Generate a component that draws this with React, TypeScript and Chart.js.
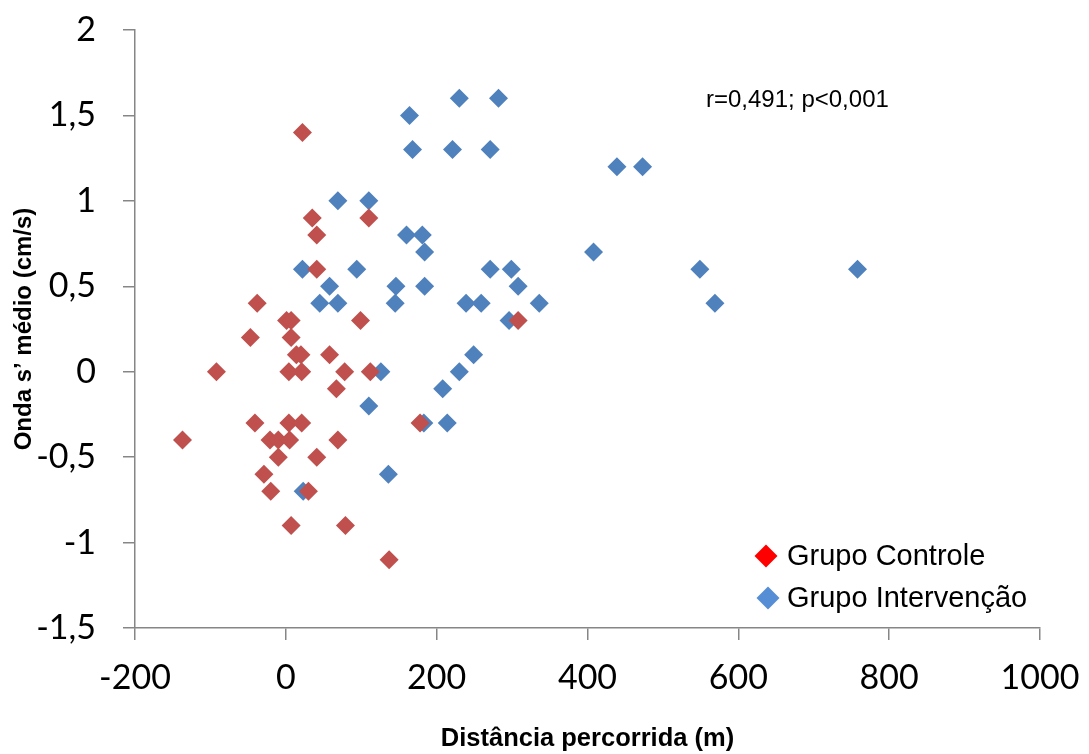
import React, { useEffect, useRef } from "react";
import { Chart, registerables } from "chart.js";

Chart.register(...registerables);

// ---- Data ----
const seriesNames = ["Grupo Controle", "Grupo Intervenção"];

const controleX = [22, 110, 35, 41, 41, -38, 1, 7, 99, -47, 7, 14, 20, 58, -92, 4, 21, 78, 112, 67, 178, -41, 4, 21, -137, -21, -10, 5, 69, -10, 41, -29, -20, 30, 7, 79, 137, 308];
const controleY = [1.4, 0.9, 0.9, 0.8, 0.6, 0.4, 0.3, 0.3, 0.3, 0.2, 0.2, 0.1, 0.1, 0.1, 0, 0, 0, 0, 0, -0.1, -0.3, -0.3, -0.3, -0.3, -0.4, -0.4, -0.4, -0.4, -0.4, -0.5, -0.5, -0.6, -0.7, -0.7, -0.9, -0.9, -1.1, 0.3];

const intervencaoX = [230, 282, 164, 168, 221, 271, 439, 473, 69, 110, 160, 181, 184, 408, 22, 94, 271, 299, 549, 758, 58, 146, 184, 308, 45, 69, 145, 239, 259, 336, 569, 296, 249, 126, 230, 110, 208, 183, 214, 136, 23];
const intervencaoY = [1.6, 1.6, 1.5, 1.3, 1.3, 1.3, 1.2, 1.2, 1.0, 1.0, 0.8, 0.8, 0.7, 0.7, 0.6, 0.6, 0.6, 0.6, 0.6, 0.6, 0.5, 0.5, 0.5, 0.5, 0.4, 0.4, 0.4, 0.4, 0.4, 0.4, 0.4, 0.3, 0.1, 0, 0, -0.2, -0.1, -0.3, -0.3, -0.6, -0.7];

const xTickValues = [-200, 0, 200, 400, 600, 800, 1000];
const yTickValues = [-1.5, -1, -0.5, 0, 0.5, 1, 1.5, 2];

const annotationText = "r=0,491; p<0,001";
const xAxisTitle = "Distância percorrida (m)";
const yAxisTitle = "Onda s’ médio (cm/s)";

const markerColors = ["#C0504D", "#4F81BD"];
const legendColors = ["#FF0000", "#558ED5"];

const toPoints = (xs: number[], ys: number[]) => xs.map((x, i) => ({ x, y: ys[i] }));

const overlayPlugin = {
  id: "overlay",
  afterDraw(chart: any) {
    const ctx = chart.ctx as CanvasRenderingContext2D;
    const area = chart.chartArea;
    ctx.save();
    // correlation annotation
    ctx.font = '24px "Liberation Sans", Arial, sans-serif';
    ctx.fillStyle = "#000000";
    ctx.textAlign = "left";
    ctx.textBaseline = "alphabetic";
    ctx.fillText(annotationText, area.left + 571, area.top + 77);

    // legend (inside plot, bottom right)
    const names = chart.data.datasets.map((d: any) => d.label);
    const baseX = area.left + 652;
    const rows = [area.top + 526, area.top + 568];
    ctx.font = '29px "Liberation Sans", Arial, sans-serif';
    ctx.textBaseline = "middle";
    names.forEach((name: string, i: number) => {
      const cy = rows[i];
      const cx = baseX - 21 + i * 2;
      const r = 11.5;
      ctx.beginPath();
      ctx.moveTo(cx, cy - r);
      ctx.lineTo(cx + r, cy);
      ctx.lineTo(cx, cy + r);
      ctx.lineTo(cx - r, cy);
      ctx.closePath();
      ctx.fillStyle = legendColors[i];
      ctx.fill();
      ctx.fillStyle = "#000000";
      ctx.fillText(name, baseX, cy + 1);
    });
    ctx.restore();
  },
};

export default function App() {
  const canvasRef = useRef<HTMLCanvasElement | null>(null);

  useEffect(() => {
    if (!canvasRef.current) return;
    const chart = new Chart(canvasRef.current, {
      type: "scatter",
      data: {
        datasets: [
          {
            label: seriesNames[0],
            data: toPoints(controleX, controleY),
            backgroundColor: markerColors[0],
            borderColor: markerColors[0],
            borderWidth: 0,
            pointStyle: "rectRot",
            pointRadius: 9.5,
            pointHoverRadius: 9.5,
          },
          {
            label: seriesNames[1],
            data: toPoints(intervencaoX, intervencaoY),
            backgroundColor: markerColors[1],
            borderColor: markerColors[1],
            borderWidth: 0,
            pointStyle: "rectRot",
            pointRadius: 9.5,
            pointHoverRadius: 9.5,
          },
        ],
      },
      options: {
        animation: false,
        responsive: true,
        maintainAspectRatio: false,
        layout: { padding: { top: 30, right: 49, left: 0, bottom: 0 } },
        plugins: {
          legend: { display: false },
          tooltip: { enabled: false },
        },
        scales: {
          x: {
            type: "linear",
            min: -200,
            max: 1000,
            afterBuildTicks: (scale: any) => {
              scale.ticks = xTickValues.map((v) => ({ value: v }));
            },
            afterFit: (scale: any) => {
              scale.height = 126;
              scale.paddingLeft = 0;
              scale.paddingRight = 0;
            },
            grid: {
              drawOnChartArea: false,
              drawTicks: true,
              tickLength: 12,
              color: "#868686",
              lineWidth: 1.5,
            },
            border: { display: true, color: "#868686", width: 1.5 },
            ticks: {
              padding: 18,
              color: "#000000",
              font: { family: "Lato, 'Open Sans', sans-serif", size: 34 },
              maxRotation: 0,
              autoSkip: false,
              callback: (v: any) => String(v),
            },
            title: {
              display: true,
              text: xAxisTitle,
              color: "#000000",
              font: { family: "'Liberation Sans', Arial, sans-serif", size: 25.5, weight: "bold" },
              padding: { top: 0, bottom: 0 },
            },
          },
          y: {
            type: "linear",
            min: -1.5,
            max: 2,
            afterBuildTicks: (scale: any) => {
              scale.ticks = yTickValues.map((v) => ({ value: v }));
            },
            afterFit: (scale: any) => {
              scale.width = 135;
              scale.paddingTop = 0;
              scale.paddingBottom = 0;
            },
            grid: {
              drawOnChartArea: false,
              drawTicks: true,
              tickLength: 12,
              color: "#868686",
              lineWidth: 1.5,
            },
            border: { display: true, color: "#868686", width: 1.5 },
            ticks: {
              padding: 27,
              color: "#000000",
              font: { family: "Lato, 'Open Sans', sans-serif", size: 34 },
              autoSkip: false,
              callback: (v: any) => String(v).replace(".", ","),
            },
            title: {
              display: true,
              text: yAxisTitle,
              color: "#000000",
              font: { family: "'Liberation Sans', Arial, sans-serif", size: 24, weight: "bold" },
              padding: { top: 10, bottom: 0 },
            },
          },
        },
      },
      plugins: [overlayPlugin],
    });
    return () => chart.destroy();
  }, []);

  return (
    <div style={{ position: "absolute", left: 0, top: 0, width: 1089, height: 754, background: "#ffffff" }}>
      <canvas ref={canvasRef} />
    </div>
  );
}
